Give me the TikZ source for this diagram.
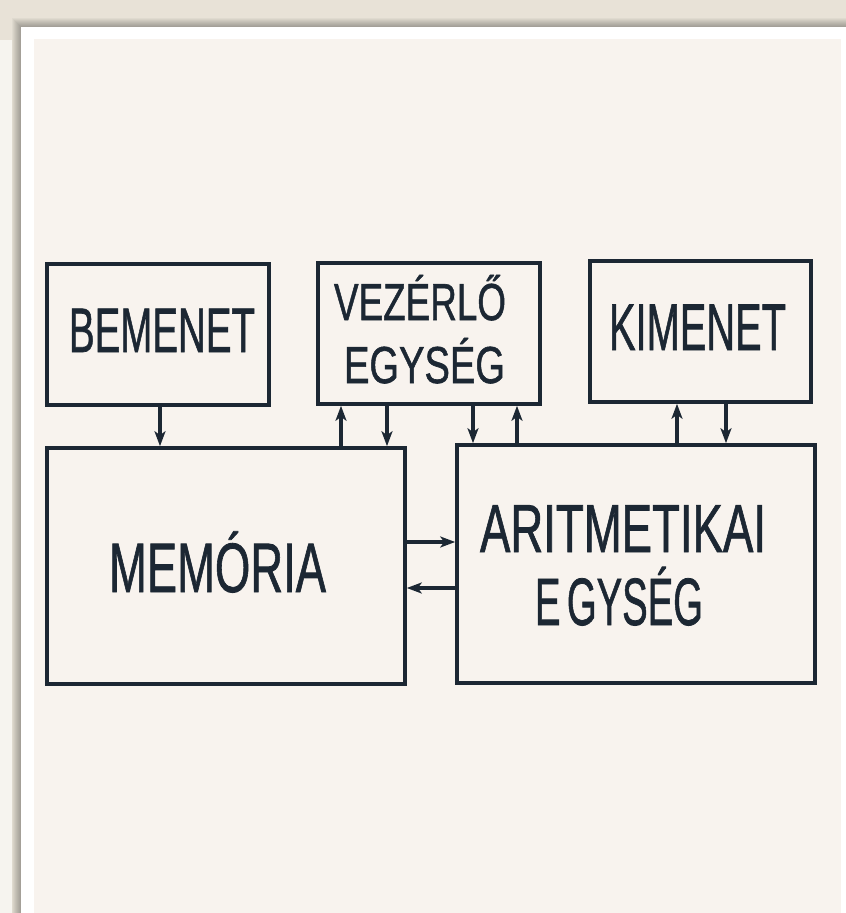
\documentclass[tikz,border=0pt]{standalone}
\usepackage{fontspec}
\setmainfont[FakeBold=1.2]{Liberation Sans}
\usetikzlibrary{arrows.meta}
\definecolor{outerbg}{HTML}{E8E2D7}
\definecolor{panelbg}{HTML}{F8F3EE}
\definecolor{ink}{HTML}{1C2733}
\newcommand\fitt[2]{\resizebox{#1pt}{\height}{#2}}
\tikzset{
  blk/.style={draw=ink, line width=3.6pt, rectangle, inner sep=0pt},
  lbl/.style={anchor=base, inner sep=0pt, text=ink},
  conn/.style={draw=ink, line width=3.4pt, -{Stealth[length=15pt,width=11pt,inset=4pt]}},
}
\begin{document}
\begin{tikzpicture}[x=1pt,y=-1pt]
\useasboundingbox (0,0) rectangle (846,913);
% background and panel
\fill[outerbg] (0,0) rectangle (846,913);
\fill[white!60!outerbg] (0,40) rectangle (12,913);
\foreach \i in {1,...,9}{
  \fill[black, opacity=0.035] (21-\i,27-\i) rectangle (846,913);
}
\fill[white] (21,27) rectangle (846,913);
\fill[panelbg] (34,39) rectangle (841,913);
% boxes
\node[blk, minimum width=222pt, minimum height=141pt] (bem) at (158,334.5) {};
\node[blk, minimum width=222pt, minimum height=141pt] (vez) at (429,333.5) {};
\node[blk, minimum width=221pt, minimum height=141pt] (kim) at (700.5,331.5) {};
\node[blk, minimum width=358pt, minimum height=236pt] (mem) at (226,566) {};
\node[blk, minimum width=358pt, minimum height=238pt] (ari) at (636,564) {};
% labels
\node[lbl, font=\fontsize{63}{63}\selectfont] (tbem) at (162,352) {\fitt{186}{BEMENET}};
\node[lbl, font=\fontsize{52}{52}\selectfont] (tvez1) at (420,320) {\fitt{172}{VEZÉRLŐ}};
\node[lbl, font=\fontsize{52}{52}\selectfont] (tvez2) at (424.5,383) {\fitt{161}{EGYSÉG}};
\node[lbl, font=\fontsize{66}{66}\selectfont] (tkim) at (697.5,350) {\fitt{177}{KIMENET}};
\node[lbl, font=\fontsize{70}{70}\selectfont] (tmem) at (217.5,592) {\fitt{217}{MEMÓRIA}};
\node[lbl, font=\fontsize{68}{68}\selectfont] (tari1) at (623,552) {\fitt{286}{ARITMETIKAI}};
\node[lbl, font=\fontsize{67}{67}\selectfont] (tari2) at (619,625) {\fitt{168}{E\,GYSÉG}};
% connectors
\draw[conn] (160,0 |- bem.south) -- (160,0 |- mem.north);
\draw[conn] (341,0 |- mem.north) -- (341,0 |- vez.south);
\draw[conn] (387,0 |- vez.south) -- (387,0 |- mem.north);
\draw[conn] (473,0 |- vez.south) -- (473,0 |- ari.north);
\draw[conn] (517,0 |- ari.north) -- (517,0 |- vez.south);
\draw[conn] (677,0 |- ari.north) -- (677,0 |- kim.south);
\draw[conn] (726,0 |- kim.south) -- (726,0 |- ari.north);
\draw[conn] (mem.east |- 0,542) -- (ari.west |- 0,542);
\draw[conn] (ari.west |- 0,588) -- (mem.east |- 0,588);
\end{tikzpicture}
\end{document}
